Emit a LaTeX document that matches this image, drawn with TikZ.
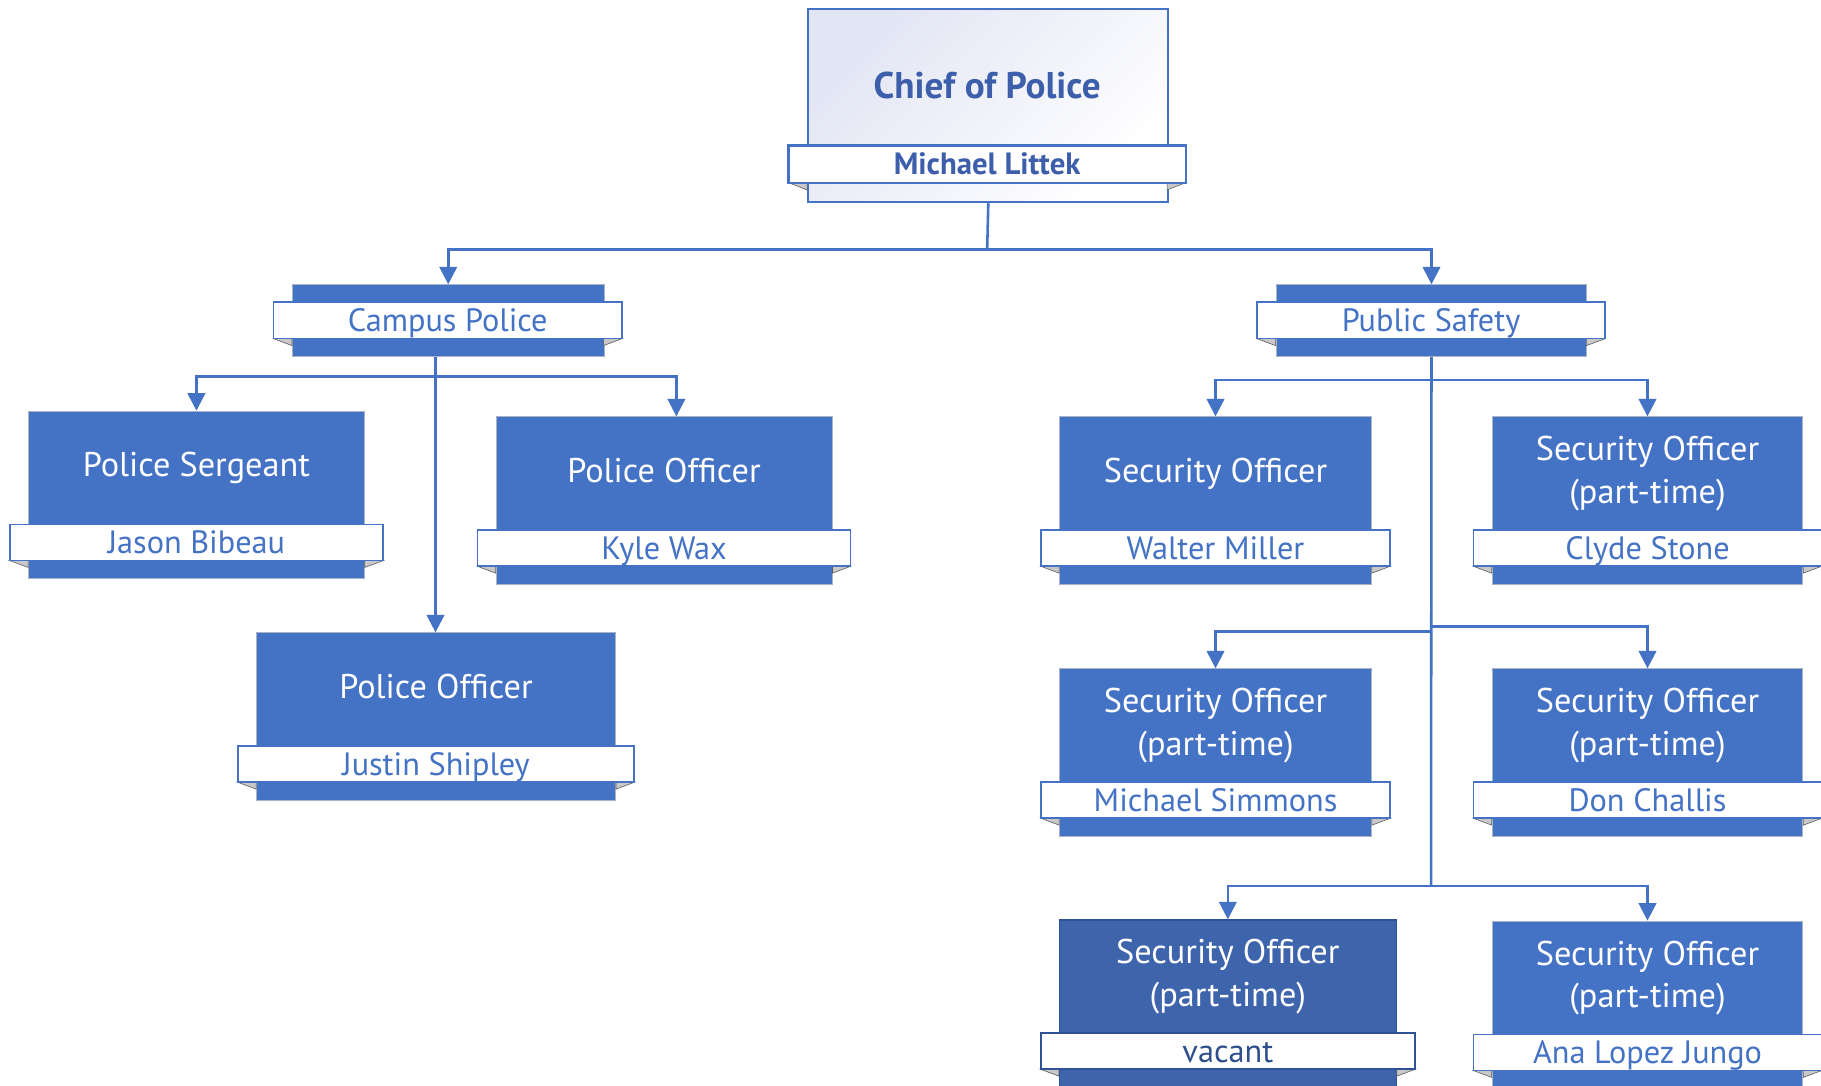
\documentclass[tikz,border=0pt]{standalone}
\usepackage{fontspec}
\setmainfont{PT Sans}
\usetikzlibrary{arrows.meta,calc}
\definecolor{obl}{HTML}{4472C4}
\definecolor{dbl}{HTML}{3E64AC}
\definecolor{dkb}{HTML}{2F5294}
\definecolor{dkt}{HTML}{2E4E8C}
\definecolor{chieft}{HTML}{3C5EAB}
\definecolor{chiefg}{HTML}{E2E5F4}
\definecolor{foldg}{HTML}{C8C8C8}
\definecolor{edgeg}{HTML}{A9B4C8}
\newcommand\orgunit[9]{%
  \node[#7, anchor=north west, minimum width=#4pt, minimum height=144.4pt] (#1) at (#2,#3) {};
  \path[fold] ($(#1.north west)+(-16,129)$) -- ($(#1.north west)+(0,129)$) -- ($(#1.north west)+(0,135)$) -- cycle;
  \path[fold] ($(#1.north east)+(16,129)$) -- ($(#1.north east)+(0,129)$) -- ($(#1.north east)+(0,135)$) -- cycle;
  \node[#8, minimum width=#4pt+32pt, minimum height=31pt] (#1-name) at ($(#1.north)+(0,113.5)$) {#6};
  \node[ttl, #9] (#1-title) at ($(#1.north)+(0,46.4)$) {#5};
}
\begin{document}
\begin{tikzpicture}[x=1pt,y=-1pt,
  box/.style={fill=obl, draw=edgeg, line width=0.8pt, inner sep=0pt},
  vbox/.style={fill=dbl, draw=dkb, line width=1pt, inner sep=0pt},
  strip/.style={fill=white, draw=obl, line width=1.4pt, inner sep=0pt, text=obl,
    text height=19.5pt, text depth=0pt, font=\fontsize{27.8}{30}\selectfont},
  vstrip/.style={strip, draw=dkb, text=dkt},
  ttl/.style={text=white, align=center, inner sep=0pt, text height=20.5pt, text depth=0pt,
    font=\fontsize{29.5}{36.5}\selectfont},
  two/.style={text height=57pt},
  one/.style={},
  fold/.style={fill=foldg, draw=black!65, line width=0.5pt},
  conn/.style={draw=obl, line width=2.2pt},
  arr/.style={conn, -{Triangle[length=15pt,width=15pt]}},
]
\clip (0,0) rectangle (1568,934.3);
\fill[white] (0,0) rectangle (1568,934.3);

% Chief of Police
\node[draw=obl, line width=2pt, minimum width=310pt, minimum height=166pt, anchor=north west,
  inner sep=0pt, top color=chiefg, bottom color=white, shading angle=45] (chief) at (695,7) {};
\path[fold] (679,157.3) -- (695,157.3) -- (695,163.5) -- cycle;
\path[fold] (1021,157.3) -- (1005,157.3) -- (1005,163.5) -- cycle;
\node[draw=obl, fill=white, line width=2pt, minimum width=342pt, minimum height=32pt, inner sep=0pt,
  text=chieft, text height=18.5pt, text depth=0pt, font=\fontsize{26.5}{28}\selectfont\bfseries]
  (chief-name) at (850,141.3) {Michael Littek};
\node[text=chieft, inner sep=0pt, text height=23pt, text depth=0pt, font=\fontsize{32}{34}\selectfont\bfseries]
  (chief-title) at (850,72.9) {Chief of Police};

% Campus Police / Public Safety
\node[box, anchor=north west, minimum width=268.3pt, minimum height=62pt] (campus) at (251.4,244.8) {};
\path[fold] (235.6,291.6) -- (251.4,291.6) -- (251.4,297.6) -- cycle;
\path[fold] (535.5,291.6) -- (519.7,291.6) -- (519.7,297.6) -- cycle;
\node[strip, minimum width=299.9pt, minimum height=31.3pt] (campus-name) at (385.55,275.95) {Campus Police};

\node[box, anchor=north west, minimum width=267.6pt, minimum height=62pt] (public) at (1098.4,244.8) {};
\path[fold] (1082.4,291.6) -- (1098.4,291.6) -- (1098.4,297.6) -- cycle;
\path[fold] (1382,291.6) -- (1366,291.6) -- (1366,297.6) -- cycle;
\node[strip, minimum width=299.6pt, minimum height=31.3pt] (public-name) at (1232.2,275.95) {Public Safety};

% Units
\orgunit{sgt}{24.2}{353.6}{289.1}{Police Sergeant}{Jason Bibeau}{box}{strip}{one}
\orgunit{kyle}{426.8}{358.5}{289.2}{Police Officer}{Kyle Wax}{box}{strip}{one}
\orgunit{justin}{220.5}{544.5}{309.1}{Police Officer}{Justin Shipley}{box}{strip}{one}
\orgunit{walter}{912}{358.5}{268.5}{Security Officer}{Walter Miller}{box}{strip}{one}
\orgunit{clyde}{1284.4}{358.5}{267.6}{Security Officer\\(part-time)}{Clyde Stone}{box}{strip}{two}
\orgunit{simmons}{912}{575.5}{268.5}{Security Officer\\(part-time)}{Michael Simmons}{box}{strip}{two}
\orgunit{challis}{1284.4}{575.5}{267.6}{Security Officer\\(part-time)}{Don Challis}{box}{strip}{two}
\orgunit{vacant}{911.7}{791.6}{290.1}{Security Officer\\(part-time)}{vacant}{vbox}{vstrip}{two}
\orgunit{ana}{1284.4}{792.7}{267.6}{Security Officer\\(part-time)}{Ana Lopez Jungo}{box}{strip}{two}

% Connectors
\coordinate (j0) at (850,215);
\draw[conn] (chief.south) -- (j0);
\draw[arr] (j0) -| (campus.north);
\draw[arr] (j0) -| (public.north);

\coordinate (c1) at (375,324);
\draw[arr] (c1 |- campus.south) -- (c1 |- justin.north);
\draw[arr] (c1) -| (sgt.north);
\draw[arr] (c1) -| ($(kyle.north)+(10.6,0)$);

\coordinate (p1) at (1232.2,327.2);
\coordinate (p2l) at (1232.2,543.9);
\coordinate (p2r) at (1232.2,539.6);
\coordinate (p3) at (1232.2,762.9);
\draw[conn] (public.south) -- (p3);
\draw[arr] (p1) -| (walter.north);
\draw[arr] (p1) -| (clyde.north);
\draw[arr] (p2l) -| (simmons.north);
\draw[arr] (p2r) -| (challis.north);
\draw[arr] (p3) -| (vacant.north);
\draw[arr] (p3) -| (ana.north);
\end{tikzpicture}
\end{document}
